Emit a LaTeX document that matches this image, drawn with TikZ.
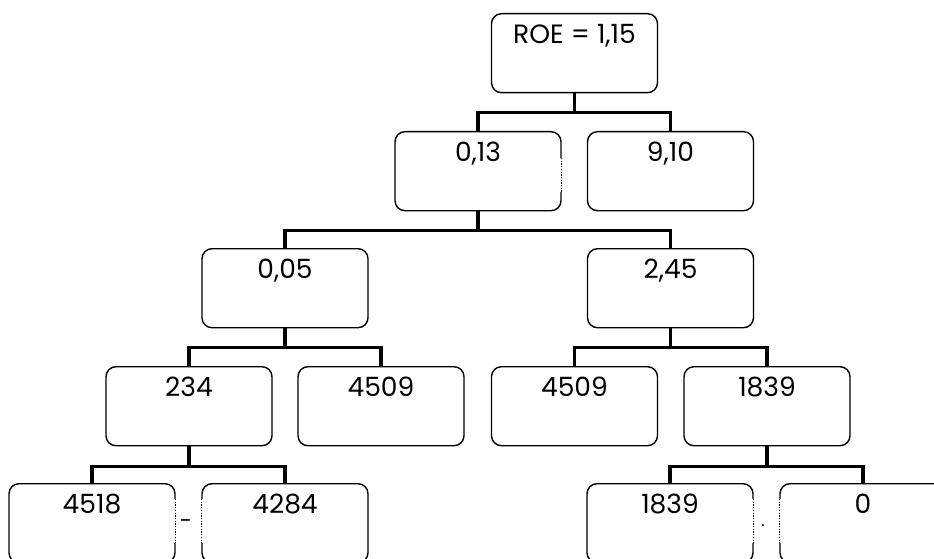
\documentclass[tikz,border=0pt]{standalone}
\usepackage{fontspec}
\setmainfont{Poppins}
\usetikzlibrary{calc}
\begin{document}
\begin{tikzpicture}[x=1pt,y=-1pt,
  box/.style={draw, line width=1.4pt, rounded corners=10pt, minimum width=166pt,
    minimum height=79pt, inner ysep=0pt, text height=30pt, text depth=49pt,
    anchor=north, font=\fontsize{26.5}{30}\selectfont},
  conn/.style={line width=3.4pt, line join=miter},
  dotline/.style={line width=1.5pt, dash pattern=on 1.3pt off 1.4pt},
  gap/.style={white, line width=2.8pt}]
\useasboundingbox (0,0) rectangle (934,559);
\clip (0,0) rectangle (934,559);
% nodes
\node[box] (roe) at (574.5,13) {ROE = 1,15};
\node[box] (a) at (478,131) {0,13};
\node[box] (b) at (670.5,131) {9,10};
\node[box] (c) at (285,248) {0,05};
\node[box] (d) at (670.5,248) {2,45};
\node[box] (e) at (189,366) {234};
\node[box] (f) at (381,366) {4509};
\node[box] (g) at (574.5,366) {4509};
\node[box] (h) at (767,366) {1839};
\node[box] (i) at (92,483) {4518};
\node[box] (j) at (285,483) {4284};
\node[box] (k) at (670,483) {1839};
\node[box] (l) at (863,483) {0};
% connectors
\draw[conn] (roe.south) -- ++(0,19) coordinate (j1);
\draw[conn] (a.north) |- (j1) -| (b.north);
\draw[conn] (a.south) -- ++(0,19) coordinate (j2);
\draw[conn] (c.north) |- (j2) -| (d.north);
\draw[conn] (c.south) -- ++(0,19) coordinate (j3);
\draw[conn] (e.north) |- (j3) -| (f.north);
\draw[conn] (d.south) -- ++(0,19) coordinate (j4);
\draw[conn] (g.north) |- (j4) -| (h.north);
\draw[conn] (e.south) -- ++(0,20) coordinate (j5);
\draw[conn] (i.north) |- (j5) -| (j.north);
\draw[conn] (h.south) -- ++(0,20) coordinate (j6);
\draw[conn] (k.north) |- (j6) -| (l.north);
% dotted edge parts
\draw[gap] ([yshift=-27pt]a.north east) -- ([yshift=-61pt]a.north east);
\draw[dotline] ([yshift=-27pt]a.north east) -- ([yshift=-61pt]a.north east);
\foreach \n/\s in {i/north east, j/north west, k/north east, l/north west}{
  \draw[gap] ([yshift=-16pt]\n.\s) -- ([yshift=-60pt]\n.\s);
  \draw[dotline] ([yshift=-16pt]\n.\s) -- ([yshift=-60pt]\n.\s);
}
\node[font=\fontsize{22}{24}\selectfont, inner sep=0pt] (m1) at (186,524) {-};
\node[font=\fontsize{16}{18}\selectfont, inner sep=0pt] (m2) at (763,526) {.};
\end{tikzpicture}
\end{document}
